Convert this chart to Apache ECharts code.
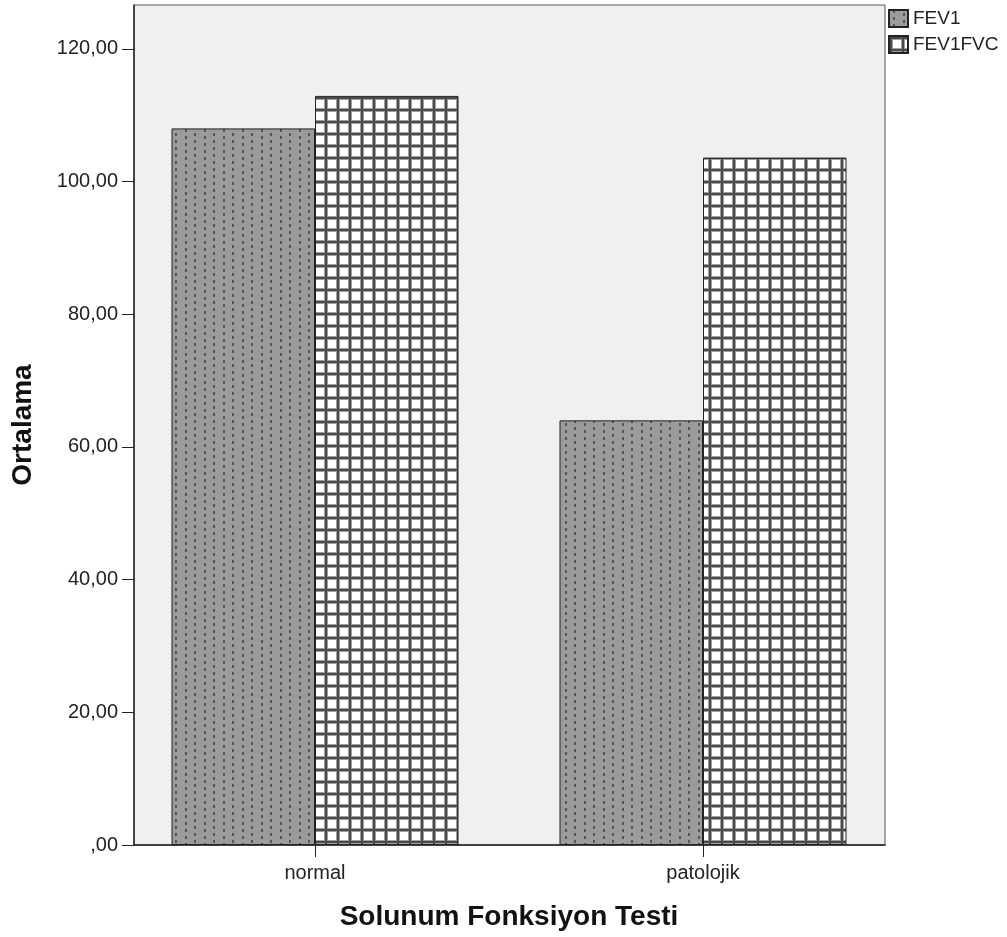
<!DOCTYPE html>
<html>
<head>
<meta charset="utf-8">
<script src="https://cdn.jsdelivr.net/npm/echarts@6/dist/echarts.min.js"></script>
<style>html,body{margin:0;padding:0;background:#fff}#c{width:1007px;height:937px}</style>
</head>
<body>
<div id="c"></div>
<script>
const categories = ['normal', 'patolojik'];
const seriesNames = ['FEV1', 'FEV1FVC'];
const fev1 = [108.0, 64.0];
const fev1fvc = [112.9, 103.6];
const yTicks = [0, 20, 40, 60, 80, 100, 120];
const yMax = 126.6;

function dotPattern() {
  const c = document.createElement('canvas');
  c.width = 19; c.height = 14;
  const g = c.getContext('2d');
  g.fillStyle = '#9b9b9b'; g.fillRect(0, 0, 19, 14);
  g.fillStyle = '#555555';
  g.fillRect(4, 0, 2, 3);
  g.fillRect(4, 7, 2, 3);
  g.fillRect(14, 3, 2, 3);
  g.fillRect(14, 10, 2, 3);
  return c;
}
function gridPattern() {
  const c = document.createElement('canvas');
  c.width = 12; c.height = 12;
  const g = c.getContext('2d');
  g.fillStyle = '#ffffff'; g.fillRect(0, 0, 12, 12);
  g.fillStyle = '#a0a0a0';
  g.fillRect(0, 0, 12, 4);
  g.fillRect(0, 0, 4, 12);
  g.fillStyle = '#4a4a4a';
  g.fillRect(0, 1, 12, 2);
  g.fillRect(1, 0, 2, 12);
  return c;
}

const font = 'Arial, "Liberation Sans", sans-serif';
const fmt = v => v === 0 ? ',00' : v.toFixed(2).replace('.', ',');

const chart = echarts.init(document.getElementById('c'), null, {renderer: 'canvas'});
chart.setOption({
  animation: false,
  backgroundColor: '#ffffff',
  textStyle: {fontFamily: font},
  legend: {
    orient: 'vertical', left: 888, top: 9, padding: 0,
    icon: 'rect',
    itemWidth: 19, itemHeight: 17, itemGap: 7,
    textStyle: {fontSize: 19, color: '#222', fontFamily: font},
    data: seriesNames
  },
  grid: [
    {left: 134, right: 122, top: 5, bottom: 92, show: true, backgroundColor: '#f0f0f0', borderColor: '#555', borderWidth: 1},
    {left: 121, width: 776, top: 5, bottom: 92, show: false}
  ],
  xAxis: [
    {gridIndex: 0, type: 'value', min: 0, max: 1,
     axisLine: {show: true, lineStyle: {color: '#222', width: 1.5}},
     axisTick: {show: false}, axisLabel: {show: false}, splitLine: {show: false}},
    {gridIndex: 1, type: 'category', data: categories,
     axisLine: {show: false},
     axisTick: {show: true, alignWithLabel: true, length: 12, lineStyle: {color: '#222'}},
     axisLabel: {fontSize: 20, color: '#222', margin: 18},
     name: 'Solunum Fonksiyon Testi', nameLocation: 'middle', nameGap: 58,
     nameTextStyle: {fontSize: 28, fontWeight: 'bold', color: '#111'}}
  ],
  yAxis: [
    {gridIndex: 0, type: 'value', min: 0, max: yMax, interval: 20,
     axisLine: {show: true, lineStyle: {color: '#222', width: 1.5}},
     axisTick: {show: true, length: 12, customValues: yTicks, lineStyle: {color: '#222'}},
     axisLabel: {fontSize: 20, color: '#222', margin: 16, customValues: yTicks, formatter: fmt},
     splitLine: {show: false},
     name: 'Ortalama', nameLocation: 'middle', nameGap: 97,
     nameTextStyle: {fontSize: 28, fontWeight: 'bold', color: '#111'}},
    {gridIndex: 1, type: 'value', min: 0, max: yMax, show: false}
  ],
  series: [
    {name: seriesNames[0], type: 'bar', xAxisIndex: 1, yAxisIndex: 1, data: fev1,
     barWidth: 143.5, barGap: '0%',
     itemStyle: {color: {image: dotPattern(), repeat: 'repeat'}, borderColor: '#222', borderWidth: 1}},
    {name: seriesNames[1], type: 'bar', xAxisIndex: 1, yAxisIndex: 1, data: fev1fvc,
     barWidth: 143.5, barGap: '0%',
     itemStyle: {color: {image: gridPattern(), repeat: 'repeat'}, borderColor: '#222', borderWidth: 1}}
  ]
});
</script>
</body>
</html>
